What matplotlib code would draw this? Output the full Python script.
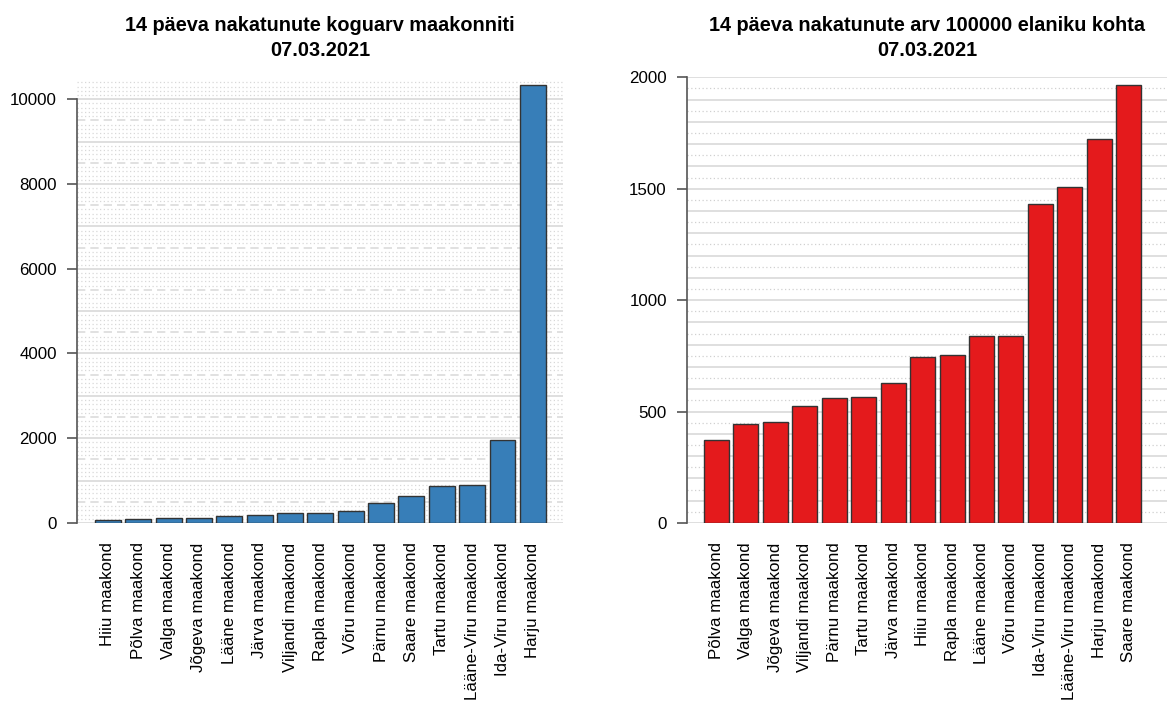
import matplotlib.pyplot as plt
import numpy as np

plt.rcParams['font.family'] = ['Liberation Sans', 'DejaVu Sans']

# andmed: 14 päeva nakatunute koguarv
maakond_kogu = ['Hiiu maakond', 'Põlva maakond', 'Valga maakond', 'Jõgeva maakond',
                'Lääne maakond', 'Järva maakond', 'Viljandi maakond', 'Rapla maakond',
                'Võru maakond', 'Pärnu maakond', 'Saare maakond', 'Tartu maakond',
                'Lääne-Viru maakond', 'Ida-Viru maakond', 'Harju maakond']
kogu = [63, 86, 110, 125, 165, 180, 235, 236, 290, 478, 643, 870, 886, 1953, 10330]

# andmed: 14 päeva nakatunute arv 100000 elaniku kohta
maakond_100k = ['Põlva maakond', 'Valga maakond', 'Jõgeva maakond', 'Viljandi maakond',
                'Pärnu maakond', 'Tartu maakond', 'Järva maakond', 'Hiiu maakond',
                'Rapla maakond', 'Lääne maakond', 'Võru maakond', 'Ida-Viru maakond',
                'Lääne-Viru maakond', 'Harju maakond', 'Saare maakond']
arv_100k = [373, 442, 454, 527, 563, 564, 627, 745, 754, 837, 839, 1433, 1509, 1722, 1966]

kuupaev = '07.03.2021'

fig = plt.figure(figsize=(11.67, 7.02), dpi=100)
ax1 = fig.add_axes([0.066, 0.255, 0.4165, 0.635])
ax2 = fig.add_axes([0.5887, 0.255, 0.4113, 0.635])

grid_c = '#dcdcdc'

# vasak graafik - ruudustik
for v in np.arange(0, 10500, 100):
    if v % 1000 == 0:
        ax1.axhline(v, color=grid_c, lw=1.3, zorder=0)
    elif v % 500 == 0:
        ax1.axhline(v, color=grid_c, lw=1.2, ls=(0, (5, 3)), zorder=0)
    else:
        ax1.axhline(v, color='#d8d8d8', lw=0.9, ls=(0, (1, 2)), zorder=0)

x1 = np.arange(len(kogu))
ax1.bar(x1, kogu, width=0.85, color='#377EB8', edgecolor='#333333', lw=1.0, zorder=2)
ax1.set_xlim(-1.02, 15.0)
ax1.set_ylim(0, 10520)
ax1.set_yticks(np.arange(0, 10001, 2000))
ax1.set_xticks(x1)
ax1.set_xticklabels(maakond_kogu, rotation=90, va='top', ha='center', fontsize=12.2)
ax1.set_title('14 päeva nakatunute koguarv maakonniti\n' + kuupaev,
              fontsize=14.3, fontweight='bold', pad=15, linespacing=1.4)

# parem graafik - ruudustik
for v in np.arange(0, 2001, 50):
    if v % 100 == 0:
        ax2.axhline(v, color=grid_c, lw=1.3, zorder=0)
    else:
        ax2.axhline(v, color='#d0d0d0', lw=0.9, ls=(0, (1, 2)), zorder=0)

x2 = np.arange(len(arv_100k))
ax2.bar(x2, arv_100k, width=0.85, color='#E41A1C', edgecolor='#333333', lw=1.0, zorder=2)
ax2.set_xlim(-1.0, 15.3)
ax2.set_ylim(0, 2000)
ax2.set_yticks(np.arange(0, 2001, 500))
ax2.set_xticks(x2)
ax2.set_xticklabels(maakond_100k, rotation=90, va='top', ha='center', fontsize=12.2)
ax2.set_title('14 päeva nakatunute arv 100000 elaniku kohta\n' + kuupaev,
              fontsize=14.3, fontweight='bold', pad=15, linespacing=1.4)

for ax, top in [(ax1, 10000), (ax2, 2000)]:
    for s in ['top', 'right', 'bottom']:
        ax.spines[s].set_visible(False)
    ax.spines['left'].set_bounds(0, top)
    ax.spines['left'].set_color('#555555')
    ax.spines['left'].set_linewidth(1.2)
    ax.tick_params(axis='y', length=7, width=1.2, color='#555555', labelsize=12.2, pad=7.5)
    ax.tick_params(axis='x', length=0, pad=14)

plt.savefig('out.png', dpi=100)
